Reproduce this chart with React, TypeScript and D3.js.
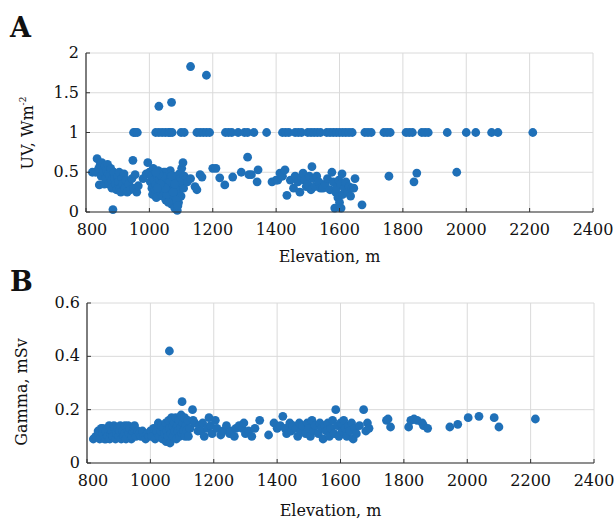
import React from "react";
import * as d3 from "d3";

// Panel A: UV vs elevation
const uvXTicks = [800, 1000, 1200, 1400, 1600, 1800, 2000, 2200, 2400];
const uvYTicks = [0, 0.5, 1, 1.5, 2];

// points sitting on the 1.0 line
const uvPlateau = [
  950, 955, 962, 1020, 1030, 1040, 1050, 1060, 1065, 1072, 1100, 1110, 1150, 1160,
  1170, 1180, 1190, 1240, 1250, 1260, 1280, 1300, 1310, 1330, 1370, 1420, 1430,
  1440, 1460, 1470, 1480, 1500, 1510, 1520, 1530, 1540, 1560, 1570, 1580, 1590,
  1600, 1610, 1620, 1630, 1640, 1680, 1690, 1700, 1740, 1750, 1760, 1810, 1820,
  1830, 1860, 1870, 1880, 1940, 2000, 2030, 2080, 2100, 2210,
];

const uvHigh: [number, number][] = [
  [1030, 1.33], [1070, 1.38], [1130, 1.83], [1180, 1.72],
];

const uvLow: [number, number][] = [
  [820, 0.5], [830, 0.5], [835, 0.67], [840, 0.55], [842, 0.34], [845, 0.6], [848, 0.45],
  [850, 0.62], [855, 0.5], [858, 0.35], [860, 0.58], [862, 0.42], [865, 0.52], [868, 0.6],
  [870, 0.48], [872, 0.35], [875, 0.45], [878, 0.55], [880, 0.4], [882, 0.3], [885, 0.03],
  [888, 0.5], [890, 0.42], [893, 0.35], [896, 0.28], [900, 0.45], [903, 0.38], [905, 0.5],
  [908, 0.3], [910, 0.25], [913, 0.42], [916, 0.35], [920, 0.48], [923, 0.3], [926, 0.4],
  [930, 0.25], [935, 0.35], [940, 0.28], [945, 0.42], [948, 0.65], [950, 0.3], [955, 0.47],
  [960, 0.25], [965, 0.33],
  [980, 0.42], [990, 0.48], [995, 0.62], [1000, 0.5], [1003, 0.38], [1006, 0.45],
  [1008, 0.3], [1010, 0.22], [1012, 0.55], [1015, 0.4], [1018, 0.28], [1020, 0.35],
  [1022, 0.18], [1025, 0.45], [1028, 0.52], [1030, 0.3], [1032, 0.4], [1035, 0.25],
  [1037, 0.48], [1040, 0.35], [1042, 0.2], [1045, 0.42], [1047, 0.3], [1050, 0.5],
  [1052, 0.15], [1055, 0.38], [1057, 0.25], [1060, 0.45], [1062, 0.32], [1064, 0.2],
  [1066, 0.52], [1068, 0.4], [1070, 0.1], [1072, 0.28], [1074, 0.35], [1076, 0.45],
  [1078, 0.18], [1080, 0.05], [1082, 0.3], [1084, 0.4], [1086, 0.22], [1088, 0.02],
  [1090, 0.35], [1092, 0.12], [1094, 0.48], [1096, 0.28], [1098, 0.42], [1100, 0.2],
  [1102, 0.55], [1104, 0.35], [1106, 0.62], [1108, 0.3], [1110, 0.45], [1112, 0.4],
  [1045, 0.5], [1055, 0.22], [1065, 0.38], [1075, 0.25], [1085, 0.15], [1095, 0.38],
  [1050, 0.3], [1060, 0.12], [1070, 0.45], [1080, 0.35], [1090, 0.08], [1040, 0.45],
  [1030, 0.48], [1020, 0.5], [1035, 0.35], [1025, 0.3],
  [1120, 0.38], [1130, 0.42], [1144, 0.32], [1150, 0.28], [1160, 0.47], [1166, 0.44],
  [1200, 0.55], [1210, 0.55], [1222, 0.43], [1238, 0.34], [1263, 0.44], [1290, 0.5],
  [1310, 0.69], [1314, 0.47], [1322, 0.47], [1340, 0.38], [1343, 0.53], [1387, 0.38],
  [1400, 0.4],
  [1405, 0.4], [1412, 0.49], [1420, 0.45], [1428, 0.53], [1434, 0.21], [1445, 0.4],
  [1455, 0.3], [1460, 0.45], [1469, 0.38], [1475, 0.25], [1480, 0.44], [1485, 0.49],
  [1490, 0.4], [1495, 0.32], [1500, 0.35], [1505, 0.45], [1510, 0.28], [1513, 0.57],
  [1518, 0.42], [1522, 0.32], [1528, 0.45], [1535, 0.38], [1540, 0.3], [1548, 0.3],
  [1555, 0.35], [1562, 0.42], [1570, 0.28], [1576, 0.5], [1580, 0.38], [1585, 0.05],
  [1588, 0.25], [1590, 0.3], [1595, 0.18], [1598, 0.4], [1600, 0.12], [1603, 0.35],
  [1605, 0.05], [1608, 0.48], [1610, 0.22], [1615, 0.3], [1620, 0.38], [1625, 0.25],
  [1630, 0.32], [1635, 0.2], [1640, 0.3], [1645, 0.3], [1649, 0.42], [1671, 0.09],
  [1756, 0.45], [1835, 0.38], [1844, 0.49], [1970, 0.5],
];

// Panel B: gamma vs elevation
const gammaXTicks = [800, 1000, 1200, 1400, 1600, 1800, 2000, 2200, 2400];
const gammaYTicks = [0, 0.2, 0.4, 0.6];

const gammaPoints: [number, number][] = [
  [820, 0.09], [828, 0.1], [835, 0.12], [838, 0.11], [840, 0.09], [845, 0.13], [850, 0.11],
  [850, 0.13], [855, 0.09], [860, 0.12], [860, 0.09], [865, 0.1], [870, 0.14], [872, 0.09],
  [875, 0.11], [878, 0.12], [882, 0.1], [885, 0.14], [888, 0.13], [890, 0.09], [893, 0.11],
  [898, 0.13], [900, 0.1], [903, 0.12], [905, 0.14], [908, 0.09], [912, 0.12], [916, 0.1],
  [918, 0.11], [920, 0.14], [923, 0.09], [928, 0.12], [930, 0.14], [932, 0.11], [936, 0.13],
  [940, 0.09], [942, 0.1], [945, 0.12], [948, 0.13], [950, 0.14], [955, 0.1], [960, 0.12],
  [965, 0.11], [970, 0.1], [975, 0.12], [980, 0.1], [985, 0.09], [990, 0.11], [995, 0.1],
  [1000, 0.12],
  [1005, 0.1], [1010, 0.13], [1015, 0.09], [1020, 0.12], [1025, 0.15], [1028, 0.1],
  [1032, 0.12], [1035, 0.14], [1038, 0.09], [1042, 0.13], [1045, 0.11], [1048, 0.15],
  [1050, 0.08], [1052, 0.12], [1055, 0.1], [1058, 0.16], [1060, 0.13], [1062, 0.075],
  [1065, 0.11], [1067, 0.17], [1070, 0.14], [1072, 0.1], [1075, 0.15], [1077, 0.12],
  [1080, 0.17], [1082, 0.09], [1085, 0.14], [1087, 0.12], [1090, 0.16], [1092, 0.1],
  [1095, 0.13], [1097, 0.18], [1100, 0.11], [1102, 0.15], [1105, 0.12], [1108, 0.17],
  [1110, 0.1], [1112, 0.14], [1115, 0.12], [1118, 0.16], [1120, 0.1], [1125, 0.13],
  [1060, 0.42], [1100, 0.23], [1133, 0.2],
  [1135, 0.16], [1140, 0.15], [1150, 0.12], [1155, 0.14], [1160, 0.12], [1165, 0.15],
  [1170, 0.1], [1180, 0.13], [1185, 0.17], [1190, 0.14], [1195, 0.11], [1205, 0.16],
  [1210, 0.13], [1222, 0.105], [1230, 0.12], [1240, 0.14], [1250, 0.11], [1255, 0.12],
  [1265, 0.1], [1270, 0.13], [1280, 0.14], [1290, 0.13], [1295, 0.15], [1300, 0.11],
  [1310, 0.12], [1320, 0.1], [1330, 0.13], [1345, 0.16], [1373, 0.105], [1390, 0.15],
  [1400, 0.13],
  [1410, 0.14], [1418, 0.175], [1425, 0.13], [1430, 0.11], [1440, 0.15], [1445, 0.12],
  [1450, 0.14], [1460, 0.13], [1465, 0.1], [1470, 0.15], [1475, 0.12], [1480, 0.14],
  [1490, 0.11], [1495, 0.15], [1500, 0.13], [1505, 0.1], [1510, 0.16], [1515, 0.12],
  [1520, 0.14], [1530, 0.11], [1535, 0.15], [1540, 0.13], [1545, 0.09], [1550, 0.14],
  [1555, 0.12], [1560, 0.15], [1565, 0.1], [1570, 0.13], [1575, 0.16], [1580, 0.11],
  [1585, 0.2], [1590, 0.14], [1595, 0.1], [1600, 0.15], [1605, 0.12], [1610, 0.16],
  [1615, 0.13], [1620, 0.1], [1625, 0.14], [1630, 0.12], [1635, 0.15], [1640, 0.09],
  [1645, 0.13], [1650, 0.11], [1660, 0.14], [1673, 0.2], [1680, 0.12], [1685, 0.15],
  [1690, 0.13],
  [1745, 0.16], [1750, 0.165], [1758, 0.135], [1815, 0.135], [1822, 0.16], [1832, 0.165],
  [1842, 0.16], [1858, 0.15], [1862, 0.14], [1875, 0.13], [1945, 0.135], [1970, 0.145],
  [2003, 0.17], [2037, 0.175], [2085, 0.17], [2100, 0.135], [2215, 0.165],
];

const FONT = "'DejaVu Serif', serif";
const DOT = "#1f70b8";
const INK = "#111";

type PanelProps = {
  letter: string;
  letterY: number;
  box: { left: number; right: number; top: number; bottom: number };
  yMax: number;
  xTicks: number[];
  yTicks: number[];
  points: [number, number][];
  yLabel: React.ReactNode;
  yLabelX: number;
  yLabelY: number;
  xLabelY: number;
};

function Panel({ letter, letterY, box, yMax, xTicks, yTicks, points, yLabel, yLabelX, yLabelY, xLabelY }: PanelProps) {
  const x = d3.scaleLinear().domain([800, 2400]).range([box.left, box.right]);
  const y = d3.scaleLinear().domain([0, yMax]).range([box.bottom, box.top]);
  const fmt = (v: number) => (v === 0 ? "0" : String(v));

  return (
    <g>
      <text x={10} y={letterY} fontFamily={FONT} fontWeight="bold" fontSize={27} fill={INK}>
        {letter}
      </text>
      {/* grid */}
      {xTicks.map((t) => (
        <line key={"gx" + t} x1={x(t)} x2={x(t)} y1={box.top} y2={box.bottom} stroke="#dadada" strokeWidth={1} />
      ))}
      {yTicks.map((t) => (
        <line key={"gy" + t} x1={box.left} x2={box.right} y1={y(t)} y2={y(t)} stroke="#dadada" strokeWidth={1} />
      ))}
      {/* points */}
      {points.map((p, i) => (
        <circle key={i} cx={x(p[0])} cy={y(p[1])} r={4.4} fill={DOT} />
      ))}
      {/* axes */}
      <line x1={box.left} x2={box.left} y1={box.top} y2={box.bottom} stroke="#333" strokeWidth={1.2} />
      <line x1={box.left} x2={box.right} y1={box.bottom} y2={box.bottom} stroke="#333" strokeWidth={1.2} />
      {xTicks.map((t, i) => (
        <g key={"tx" + t}>
          <line x1={x(t)} x2={x(t)} y1={box.bottom} y2={box.bottom - 4} stroke="#333" strokeWidth={1} />
          <text
            x={x(t) + (i === 0 ? 6 : 0)}
            y={box.bottom + 23}
            textAnchor="middle"
            fontFamily={FONT}
            fontSize={16}
            fill={INK}
          >
            {t}
          </text>
        </g>
      ))}
      {yTicks.map((t) => (
        <g key={"ty" + t}>
          <line x1={box.left} x2={box.left + 4} y1={y(t)} y2={y(t)} stroke="#333" strokeWidth={1} />
          <text x={box.left - 7} y={y(t) + 5} textAnchor="end" fontFamily={FONT} fontSize={16} fill={INK}>
            {fmt(t)}
          </text>
        </g>
      ))}
      <text x={(box.left + box.right) / 2 - 10} y={xLabelY} textAnchor="middle" fontFamily={FONT} fontSize={16} fill={INK}>
        Elevation, m
      </text>
      <text
        transform={`translate(${yLabelX},${yLabelY}) rotate(-90)`}
        textAnchor="middle"
        fontFamily={FONT}
        fontSize={16}
        fill={INK}
      >
        {yLabel}
      </text>
    </g>
  );
}

export default function App() {
  const uvPoints: [number, number][] = [
    ...uvPlateau.map((e) => [e, 1] as [number, number]),
    ...uvHigh,
    ...uvLow,
  ];
  return (
    <svg width={615} height={519} style={{ position: "absolute", left: 0, top: 0, background: "#fff" }}>
      <Panel
        letter="A"
        letterY={37}
        box={{ left: 86, right: 593, top: 53, bottom: 212 }}
        yMax={2}
        xTicks={uvXTicks}
        yTicks={uvYTicks}
        points={uvPoints}
        yLabel={
          <>
            UV, Wm<tspan fontSize={9} dy={-7}>-2</tspan>
          </>
        }
        yLabelX={33}
        yLabelY={133}
        xLabelY={262}
      />
      <Panel
        letter="B"
        letterY={291}
        box={{ left: 87, right: 594, top: 303, bottom: 463 }}
        yMax={0.6}
        xTicks={gammaXTicks}
        yTicks={gammaYTicks}
        points={gammaPoints}
        yLabel="Gamma, mSv"
        yLabelX={27}
        yLabelY={392}
        xLabelY={516}
      />
    </svg>
  );
}
